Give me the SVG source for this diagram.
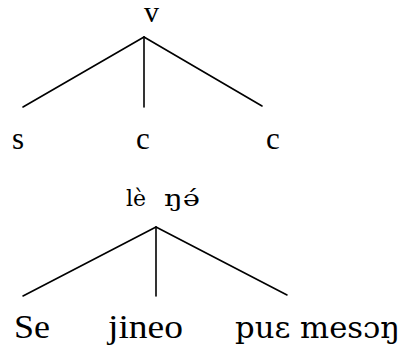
<svg xmlns="http://www.w3.org/2000/svg" width="408" height="354" viewBox="0 0 408 354">
<rect width="408" height="354" fill="#fff"/>
<g id="connectors" stroke="#000" stroke-width="1.6" fill="none" stroke-linecap="round">
<line x1="144" y1="37" x2="23" y2="107"/>
<line x1="144" y1="37" x2="144" y2="107"/>
<line x1="144" y1="37" x2="262" y2="106"/>
<line x1="156" y1="227" x2="23" y2="296"/>
<line x1="156" y1="227" x2="156" y2="296"/>
<line x1="156" y1="227" x2="287" y2="295"/>
</g>
<g id="v"><text font-family="Liberation Serif" x="144" y="22" font-size="30">v</text></g>
<g id="s"><text font-family="Liberation Serif" x="12" y="149" font-size="31">s</text></g>
<g id="c1"><text font-family="Liberation Serif" x="136" y="149" font-size="31">c</text></g>
<g id="c2"><text font-family="Liberation Serif" x="266" y="149" font-size="31">c</text></g>
<g id="le"><text font-family="DejaVu Serif" y="206" font-size="22"><tspan x="126">lè</tspan><tspan x="164" textLength="36" lengthAdjust="spacingAndGlyphs">ŋə́</tspan></text></g>
<g id="se"><text font-family="Liberation Serif" x="14" y="338" font-size="34" textLength="36" lengthAdjust="spacingAndGlyphs">Se</text></g>
<g id="jineo"><text font-family="Liberation Serif" x="108" y="338" font-size="34" textLength="75" lengthAdjust="spacingAndGlyphs">jineo</text></g>
<g id="pue"><text font-family="DejaVu Serif" x="235" y="338" font-size="29" textLength="165" lengthAdjust="spacingAndGlyphs">puɛ mesɔŋ</text></g>
</svg>
